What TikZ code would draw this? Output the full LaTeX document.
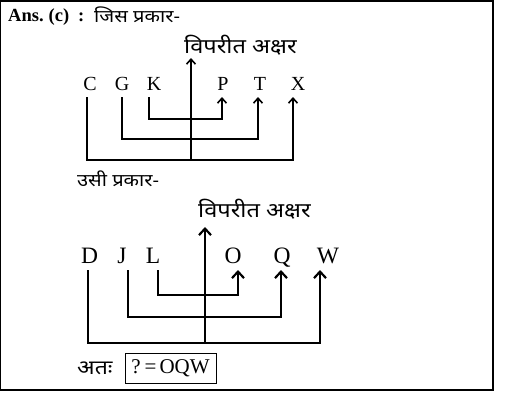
\documentclass[tikz,border=0pt]{standalone}
\usepackage{fontspec}
\setmainfont{Liberation Serif}
\newfontfamily\deva[Script=Devanagari,FakeStretch=1.15]{Noto Sans}
\usetikzlibrary{arrows.meta,calc}
\begin{document}
\begin{tikzpicture}[x=1pt,y=-1pt,
  lt/.style={font=\fontsize{20}{20}\selectfont,inner sep=0pt,anchor=base},
  lb/.style={font=\fontsize{23.5}{24}\selectfont,inner sep=0pt,anchor=base},
  dv/.style={font=\deva\fontsize{17.5}{18}\selectfont,inner sep=0pt,anchor=base west},
  dl/.style={font=\deva\fontsize{20.5}{21}\selectfont,inner sep=0pt,anchor=base west},
  cta/.style={line width=1.6pt,-{Straight Barb[length=5pt,width=9pt,line width=1.6pt]}},
  ctb/.style={line width=2.2pt,-{Straight Barb[length=6.5pt,width=12pt,line width=2.2pt]}}]
\useasboundingbox (0,0) rectangle (523,402);
\draw[line width=1.2pt] (0.8,1) rectangle (493,390);
% header
\node[anchor=base west,inner sep=0pt,font=\bfseries\fontsize{18.5}{18}\selectfont] (ans) at (8,21) {Ans.\hspace{5pt}(c)\hspace{9pt}:};
\node[dv] (h1) at (94,22) {जिस प्रकार-};
% top diagram
\node[dl] (lab1) at (184,53) {विपरीत अक्षर};
\node[lt] (C) at (90,90) {C};
\node[lt] (G) at (122,90) {G};
\node[lt] (K) at (154,90) {K};
\node[lt] (P) at (223,90) {P};
\node[lt] (T) at (260,90) {T};
\node[lt] (X) at (298,90) {X};
\coordinate (m1) at (191,160);
\draw[cta] ([shift={(-5pt,-7pt)}]K.base) -- ++(0,22) -| ([shift={(-1pt,-7pt)}]P.base);
\draw[cta] ([shift={(0pt,-7pt)}]G.base) -- ++(0,42) -| ([shift={(-2pt,-7pt)}]T.base);
\draw[cta] ([shift={(-3pt,-7pt)}]C.base) -- ++(0,63) -| ([shift={(-5pt,-7pt)}]X.base);
\draw[cta] (m1) -- ($(m1 |- lab1.base)+(0,5)$);
\node[dv] (h2) at (77,186) {उसी प्रकार-};
% bottom diagram
\node[dl] (lab2) at (198,217) {विपरीत अक्षर};
\node[lb] (D) at (89.5,263) {D};
\node[lb] (J) at (122,263) {J};
\node[lb] (L) at (153,263) {L};
\node[lb] (O) at (233,263) {O};
\node[lb] (Q) at (282,263) {Q};
\node[lb] (W) at (328,263) {W};
\coordinate (m2) at (205,343);
\draw[ctb] ([shift={(5pt,-7pt)}]L.base) -- ++(0,25) -| ([shift={(5pt,-7pt)}]O.base);
\draw[ctb] ([shift={(6pt,-7pt)}]J.base) -- ++(0,47) -| ([shift={(-1pt,-7pt)}]Q.base);
\draw[ctb] ([shift={(-1.5pt,-7pt)}]D.base) -- ++(0,73) -| ([shift={(-8pt,-7pt)}]W.base);
\draw[ctb] (m2) -- ($(m2 |- lab2.base)+(0,10)$);
% answer
\node[dv,font=\deva\fontsize{20}{20}\selectfont] (at) at (77,374) {अतः};
\node[draw,line width=0.9pt,inner sep=0pt,minimum width=91pt,minimum height=30pt,font=\fontsize{21}{21}\selectfont] (box) at (170.5,368) {?\hspace{4pt}=\hspace{3pt}OQW};
\end{tikzpicture}
\end{document}
